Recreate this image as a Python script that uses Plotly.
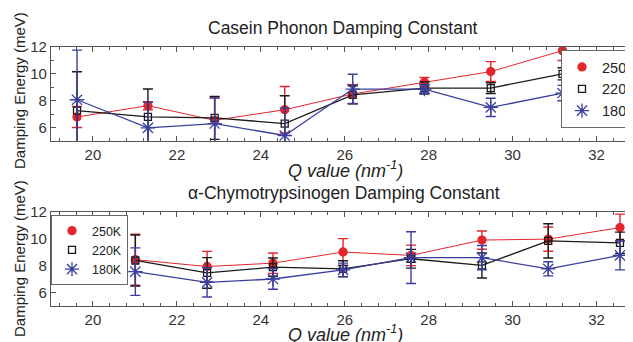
import plotly.graph_objects as go

# ---- data ----
q_casein = [19.62, 21.31, 22.90, 24.57, 26.19, 27.90, 29.48, 31.19]
c250 = [6.79, 7.63, 6.54, 7.33, 8.50, 9.38, 10.17, 11.73]
c250_err = [0.78, 0.30, 1.70, 1.73, 0.70, 0.35, 0.74, 0.74]
c220 = [7.26, 6.79, 6.72, 6.30, 8.44, 8.94, 8.94, 10.00]
c220_err = [2.90, 2.08, 1.60, 2.07, 0.67, 0.45, 0.40, 0.45]
c180 = [8.07, 5.98, 6.30, 5.41, 8.87, 8.87, 7.50, 8.57]
c180_err = [3.70, 1.90, 1.90, 2.05, 1.10, 0.30, 0.68, 0.57]

q_chymo = [21.01, 22.72, 24.29, 25.96, 27.58, 29.27, 30.85, 32.56]
h250 = [8.45, 7.94, 8.19, 9.02, 8.77, 9.91, 9.98, 10.84]
h250_err = [1.90, 1.13, 0.76, 1.00, 0.76, 0.68, 0.90, 1.00]
h220 = [8.39, 7.46, 7.89, 7.77, 8.52, 8.02, 9.85, 9.70]
h220_err = [1.90, 1.14, 0.68, 0.60, 0.70, 0.93, 1.27, 0.80]
h180 = [7.56, 6.76, 7.01, 7.69, 8.60, 8.60, 7.77, 8.77]
h180_err = [1.77, 1.09, 0.76, 0.50, 1.93, 0.90, 0.53, 1.08]

series_names = ["250K", "220K", "180K"]
x_ticks = [20, 22, 24, 26, 28, 30, 32]
y_ticks = [6, 8, 10, 12]

RED = "#e3262c"
BLACK = "#1a1a1a"
BLUE = "#3a3f9e"
FONT = "Liberation Sans, Arial, sans-serif"

styles = [
    dict(color=RED, symbol="circle", size=8, lw=1.0),
    dict(color=BLACK, symbol="square-open", size=7, lw=1.3),
    dict(color=BLUE, symbol="asterisk-open", size=12, lw=1.3),
]

# page offset (browser body margin) compensation
OFF = 8
W, H = 633 - OFF, 342 - OFF
L = 51 - OFF


def xp(px):
    return (px - OFF - L) / (W - L)


def yp(py):
    return 1 - (py - OFF) / H


fig = go.Figure()


def add_panel(qs, ys, errs, xa, ya, legend):
    for name, y, e, st in zip(series_names, ys, errs, styles):
        fig.add_trace(go.Scatter(
            x=qs, y=y, mode="lines", xaxis=xa, yaxis=ya, showlegend=False,
            line=dict(color=st["color"], width=st["lw"]), hoverinfo="skip",
        ))
        fig.add_trace(go.Scatter(
            x=qs, y=y, name=name, mode="markers",
            xaxis=xa, yaxis=ya, legend=legend,
            marker=dict(symbol=st["symbol"], size=st["size"], color=st["color"],
                        line=dict(color=st["color"], width=1.3)),
            error_y=dict(type="data", array=e, visible=True, color=st["color"],
                         thickness=1.4, width=5),
        ))


add_panel(q_casein, [c250, c220, c180], [c250_err, c220_err, c180_err], "x", "y", "legend")
add_panel(q_chymo, [h250, h220, h180], [h250_err, h220_err, h180_err], "x2", "y2", "legend2")

axis_common = dict(
    showline=True, linecolor="#555", linewidth=1.2, mirror="allticks",
    ticks="inside", ticklen=5, tickcolor="#555", showgrid=False, zeroline=False,
    tickfont=dict(family=FONT, size=15, color="#333"), automargin=False,
)

xcommon = dict(axis_common, range=[19.0, 32.87], tickvals=x_ticks,
               minor=dict(dtick=0.4, tick0=20, ticks="inside", ticklen=3, tickcolor="#555"))
ycommon = dict(axis_common, range=[5, 12], tickvals=y_ticks,
               minor=dict(dtick=1, ticks="inside", ticklen=3, tickcolor="#555"))

fig.update_layout(
    width=W, height=H,
    margin=dict(l=L, r=0, t=0, b=0, autoexpand=False),
    paper_bgcolor="white", plot_bgcolor="white",
    font=dict(family=FONT, color="#222"),
    xaxis=dict(xcommon, domain=[0, 1], anchor="y"),
    yaxis=dict(ycommon, domain=[yp(141), yp(47)], anchor="x"),
    xaxis2=dict(xcommon, domain=[0, 1], anchor="y2"),
    yaxis2=dict(ycommon, domain=[yp(306), yp(212)], anchor="x2"),
    legend=dict(x=xp(561), y=yp(50), xanchor="left", yanchor="top",
                bordercolor="#666", borderwidth=1, bgcolor="white",
                font=dict(family=FONT, size=14.5, color="#222"),
                itemwidth=30, tracegroupgap=0),
    legend2=dict(x=0.0, y=yp(215), xanchor="left", yanchor="top",
                 bordercolor="#666", borderwidth=1, bgcolor="white",
                 font=dict(family=FONT, size=12.5, color="#222"),
                 itemwidth=30, tracegroupgap=0),
    showlegend=True,
)

ann = [
    ("Casein Phonon Damping Constant", 343, 28, 17.5, 0),
    ("\u03b1-Chymotrypsinogen Damping Constant", 344, 193, 17.5, 0),
    ("<i>Q value (nm<sup>-1</sup>)</i>", 345, 169, 18, 0),
    ("<i>Q value (nm<sup>-1</sup>)</i>", 345, 333, 18, 0),
    ("Damping Energy (meV)", 19, 91, 15, -90),
    ("Damping Energy (meV)", 19, 259, 15, -90),
]
for text, px, py, size, ang in ann:
    fig.add_annotation(xref="paper", yref="paper", showarrow=False,
                       xanchor="center", yanchor="middle", textangle=ang,
                       x=xp(px), y=yp(py), text=text,
                       font=dict(family=FONT, color="#222", size=size))

fig.write_html("out.html")
